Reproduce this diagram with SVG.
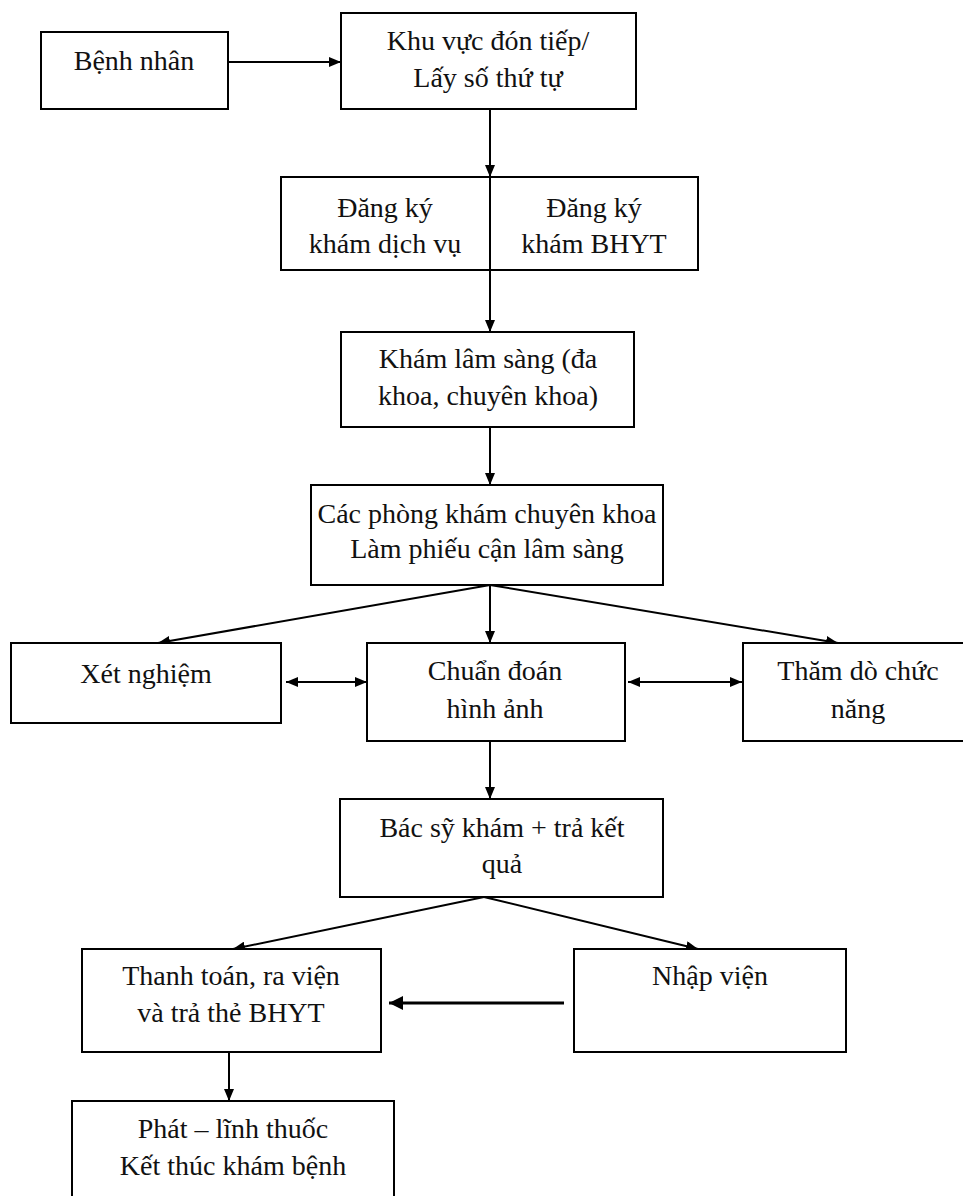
<svg xmlns="http://www.w3.org/2000/svg" width="963" height="1196" viewBox="0 0 963 1196">
<defs>
<style>
.box{fill:#fff;stroke:#000;stroke-width:2}
.t{font-family:"Liberation Serif","Times New Roman",serif;font-size:28px;fill:#111;text-anchor:middle}
.c{fill:none;stroke:#000;stroke-width:2}
.c3{fill:none;stroke:#000;stroke-width:3}
</style>
<marker id="ah" viewBox="0 0 12 10" refX="12" refY="5" markerWidth="12" markerHeight="10" markerUnits="userSpaceOnUse" orient="auto-start-reverse">
<path d="M0,0 L12,5 L0,10 Z" fill="#000"/>
</marker>
<marker id="ahb" viewBox="0 0 14 14" refX="14" refY="7" markerWidth="14" markerHeight="14" markerUnits="userSpaceOnUse" orient="auto">
<path d="M0,0 L14,7 L0,14 Z" fill="#000"/>
</marker>
</defs>
<rect width="963" height="1196" fill="#fff"/>
<g id="connectors">
<line class="c" x1="228" y1="62" x2="341" y2="62" marker-end="url(#ah)"/>
<line class="c" x1="490" y1="109" x2="490" y2="177" marker-end="url(#ah)"/>
<line class="c" x1="490" y1="270" x2="490" y2="332" marker-end="url(#ah)"/>
<line class="c" x1="490" y1="427" x2="490" y2="485" marker-end="url(#ah)"/>
<line class="c" x1="490" y1="585" x2="158" y2="643" marker-end="url(#ah)"/>
<line class="c" x1="490" y1="585" x2="490" y2="643" marker-end="url(#ah)"/>
<line class="c" x1="490" y1="585" x2="838" y2="643" marker-end="url(#ah)"/>
<line class="c" x1="286" y1="682" x2="367" y2="682" marker-start="url(#ah)" marker-end="url(#ah)"/>
<line class="c" x1="628" y1="682" x2="742" y2="682" marker-start="url(#ah)" marker-end="url(#ah)"/>
<line class="c" x1="490" y1="741" x2="490" y2="799" marker-end="url(#ah)"/>
<line class="c" x1="484" y1="897" x2="233" y2="949" marker-end="url(#ah)"/>
<line class="c" x1="484" y1="897" x2="698" y2="949" marker-end="url(#ah)"/>
<line class="c3" x1="564" y1="1003" x2="389" y2="1003" marker-end="url(#ahb)"/>
<line class="c" x1="229" y1="1052" x2="229" y2="1101" marker-end="url(#ah)"/>
</g>
<g id="benh-nhan">
<rect class="box" x="41" y="32" width="187" height="77"/>
<text class="t" x="134" y="70">Bệnh nhân</text>
</g>
<g id="khu-vuc">
<rect class="box" x="341" y="13" width="295" height="96"/>
<text class="t" x="488" y="50">Khu vực đón tiếp/</text>
<text class="t" x="488" y="87">Lấy số thứ tự</text>
</g>
<g id="dang-ky">
<rect class="box" x="281" y="177" width="417" height="93"/>
<line class="c" x1="490" y1="177" x2="490" y2="270"/>
<text class="t" x="385" y="217">Đăng ký</text>
<text class="t" x="385" y="253">khám dịch vụ</text>
<text class="t" x="594" y="217">Đăng ký</text>
<text class="t" x="594" y="253">khám BHYT</text>
</g>
<g id="kham-lam-sang">
<rect class="box" x="341" y="332" width="293" height="95"/>
<text class="t" x="488" y="368">Khám lâm sàng (đa</text>
<text class="t" x="488" y="405">khoa, chuyên khoa)</text>
</g>
<g id="cac-phong">
<rect class="box" x="311" y="485" width="352" height="100"/>
<text class="t" x="487" y="523">Các phòng khám chuyên khoa</text>
<text class="t" x="487" y="558">Làm phiếu cận lâm sàng</text>
</g>
<g id="xet-nghiem">
<rect class="box" x="11" y="643" width="270" height="80"/>
<text class="t" x="146" y="683">Xét nghiệm</text>
</g>
<g id="chuan-doan">
<rect class="box" x="367" y="643" width="258" height="98"/>
<text class="t" x="495" y="680">Chuẩn đoán</text>
<text class="t" x="495" y="718">hình ảnh</text>
</g>
<g id="tham-do">
<rect class="box" x="743" y="643" width="230" height="98"/>
<text class="t" x="858" y="680">Thăm dò chức</text>
<text class="t" x="858" y="718">năng</text>
</g>
<g id="bac-sy">
<rect class="box" x="340" y="799" width="323" height="98"/>
<text class="t" x="502" y="837">Bác sỹ khám + trả kết</text>
<text class="t" x="502" y="873">quả</text>
</g>
<g id="thanh-toan">
<rect class="box" x="82" y="949" width="299" height="103"/>
<text class="t" x="231" y="985">Thanh toán, ra viện</text>
<text class="t" x="231" y="1022">và trả thẻ BHYT</text>
</g>
<g id="nhap-vien">
<rect class="box" x="574" y="949" width="272" height="103"/>
<text class="t" x="710" y="985">Nhập viện</text>
</g>
<g id="phat-thuoc">
<rect class="box" x="72" y="1101" width="322" height="110"/>
<text class="t" x="233" y="1138">Phát – lĩnh thuốc</text>
<text class="t" x="233" y="1175">Kết thúc khám bệnh</text>
</g>
</svg>
